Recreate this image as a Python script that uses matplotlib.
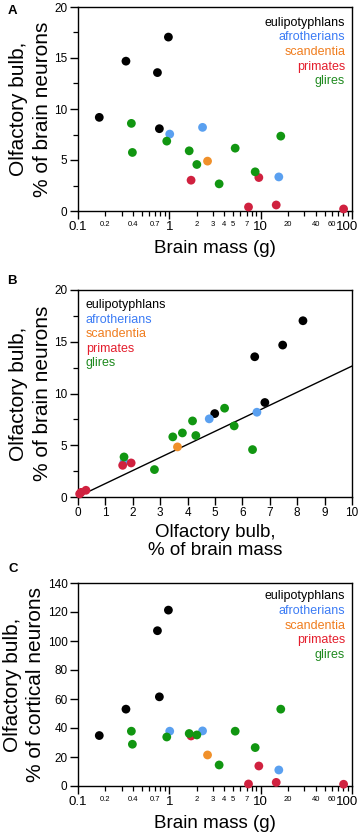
import numpy as np
import matplotlib
matplotlib.use("Agg")
import matplotlib.pyplot as plt
import matplotlib.transforms as mtransforms
from matplotlib.ticker import FixedLocator, NullLocator

plt.rcParams['font.family'] = ['Liberation Sans', 'DejaVu Sans']

groups = ["eulipotyphlans", "afrotherians", "scandentia", "primates", "glires"]
marker_colors = ["#000000", "#5aa0f0", "#f0902a", "#d0213f", "#119611"]
text_colors = ["#000000", "#3c7cf5", "#f07d1e", "#e41e2d", "#1f8a1f"]

# Panel A: brain mass (g) vs OB % of brain neurons
a_mass = {
    "eulipotyphlans": [0.171, 0.335, 0.741, 0.778, 0.977],
    "afrotherians": [1.01, 2.31, 15.8],
    "scandentia": [2.62],
    "primates": [1.73, 7.36, 9.55, 14.8, 80.9],
    "glires": [0.384, 0.394, 0.937, 1.65, 2.0, 3.51, 5.26, 8.71, 16.6],
}
a_neur = {
    "eulipotyphlans": [9.18, 14.69, 13.57, 8.07, 17.05],
    "afrotherians": [7.54, 8.2, 3.34],
    "scandentia": [4.89],
    "primates": [3.02, 0.39, 3.28, 0.59, 0.2],
    "glires": [8.59, 5.74, 6.85, 5.9, 4.56, 2.66, 6.16, 3.84, 7.34],
}

# Panel B: OB % of brain mass vs OB % of brain neurons
b_massp = {
    "eulipotyphlans": [8.21, 7.47, 6.45, 6.82, 4.99],
    "afrotherians": [4.79, 6.53, 1.68],
    "scandentia": [3.63],
    "primates": [1.63, 1.94, 0.29, 0.11, 0.06],
    "glires": [5.35, 4.18, 3.81, 3.46, 4.30, 5.70, 6.37, 1.68, 2.79],
}
b_neur = {
    "eulipotyphlans": [17.03, 14.68, 13.55, 9.13, 8.06],
    "afrotherians": [7.55, 8.19, 3.39],
    "scandentia": [4.84],
    "primates": [3.06, 3.29, 0.65, 0.45, 0.3],
    "glires": [8.58, 7.35, 6.19, 5.81, 5.94, 6.87, 4.58, 3.87, 2.65],
}
fit_x = [0.05, 10.0]
fit_y = [0.1, 12.65]

# Panel C: brain mass (g) vs OB % of cortical neurons
c_mass = a_mass
c_cort = {
    "eulipotyphlans": [34.8, 53.0, 107.1, 61.5, 121.3],
    "afrotherians": [37.8, 38.0, 11.05],
    "scandentia": [21.4],
    "primates": [34.5, 1.4, 13.8, 2.5, 1.2],
    "glires": [37.8, 28.8, 33.8, 36.2, 35.2, 14.5, 37.8, 26.5, 53.0],
}

W, H = 361, 833
fig = plt.figure(figsize=(W / 100, H / 100), dpi=100)

def axrect(l, r, t, b):
    return [l / W, 1 - b / H, (r - l) / W, (b - t) / H]

axA = fig.add_axes(axrect(78, 352, 7, 211))
axB = fig.add_axes(axrect(78, 352, 290, 497))
axC = fig.add_axes(axrect(78, 352, 583, 786))

MS = 40
major_fs = 8.5
minor_fs = 5.5

def style(ax):
    for sp in ax.spines.values():
        sp.set_linewidth(1.0)
    ax.tick_params(which='major', direction='out', length=6, width=1.0, labelsize=major_fs, pad=1.5)
    ax.tick_params(which='minor', direction='out', length=3.5, width=0.9, labelsize=minor_fs, pad=2.5)

def log_x(ax):
    ax.set_xscale('log')
    ax.set_xlim(0.1, 100)
    majors = [0.1, 1, 10, 100]
    ax.xaxis.set_major_locator(FixedLocator(majors))
    ax.set_xticklabels(["0.1", "1", "10", "100"])
    minors = [m * d for d in [0.1, 1, 10] for m in range(2, 10)]
    ax.xaxis.set_minor_locator(FixedLocator(minors))
    labeled = {0.2: "0.2", 0.4: "0.4", 0.7: "0.7", 2: "2", 3: "3", 4: "4", 5: "5",
               7: "7", 20: "20", 40: "40", 60: "60"}
    labs = []
    for v in minors:
        key = None
        for k in labeled:
            if abs(k - v) < 1e-9:
                key = k
        labs.append(labeled[key] if key is not None else "")
    ax.set_xticklabels(labs, minor=True)

def shift_last_label(ax):
    off = mtransforms.ScaledTranslation(-4.5 / 100, 0, fig.dpi_scale_trans)
    lab = ax.get_xticklabels()[-1]
    lab.set_transform(lab.get_transform() + off)

def legend(ax, x, y0, step, ha):
    for i, g in enumerate(groups):
        ax.text(x, y0 - i * step, g, color=text_colors[i], fontsize=9,
                ha=ha, va='center', transform=ax.transAxes)

def scatter(ax, xs, ys):
    for g, c in zip(groups, marker_colors):
        ax.scatter(xs[g], ys[g], s=MS, color=c, edgecolors='none', zorder=3, clip_on=False)

YL_FS = 15
YL_LS = 1.28
YL_PAD = 2

# Panel A
scatter(axA, a_mass, a_neur)
log_x(axA)
axA.set_ylim(0, 20)
axA.yaxis.set_major_locator(FixedLocator([0, 5, 10, 15, 20]))
axA.yaxis.set_minor_locator(FixedLocator([2.5, 7.5, 12.5, 17.5]))
style(axA)
axA.tick_params(axis='x', which='major', labelsize=9.5)
axA.tick_params(axis='x', which='minor', pad=3.8)
axA.set_xlabel("Brain mass (g)", fontsize=13.5, labelpad=5)
axA.set_ylabel("Olfactory bulb,\n% of brain neurons", fontsize=YL_FS, labelpad=YL_PAD, linespacing=YL_LS)
legend(axA, 0.975, 0.923, 0.0716, 'right')

# Panel B
scatter(axB, b_massp, b_neur)
axB.plot(fit_x, fit_y, color='black', lw=1.0, zorder=2)
axB.set_xlim(0, 10)
axB.set_ylim(0, 20)
axB.xaxis.set_major_locator(FixedLocator(list(range(0, 11))))
axB.xaxis.set_minor_locator(NullLocator())
axB.yaxis.set_major_locator(FixedLocator([0, 5, 10, 15, 20]))
axB.yaxis.set_minor_locator(FixedLocator([2.5, 7.5, 12.5, 17.5]))
style(axB)
axB.set_xlabel("Olfactory bulb,\n% of brain mass", fontsize=13.5, labelpad=3, linespacing=1.1)
axB.set_ylabel("Olfactory bulb,\n% of brain neurons", fontsize=YL_FS, labelpad=YL_PAD, linespacing=YL_LS)
legend(axB, 0.028, 0.927, 0.070, 'left')

# Panel C
scatter(axC, c_mass, c_cort)
log_x(axC)
axC.set_ylim(0, 140)
axC.yaxis.set_major_locator(FixedLocator(list(range(0, 141, 20))))
axC.yaxis.set_minor_locator(NullLocator())
style(axC)
axC.tick_params(axis='x', which='major', labelsize=9.5)
axC.tick_params(axis='x', which='minor', pad=3.8)
axC.set_xlabel("Brain mass (g)", fontsize=13.5, labelpad=5)
axC.set_ylabel("Olfactory bulb,\n% of cortical neurons", fontsize=YL_FS, labelpad=YL_PAD, linespacing=YL_LS)
legend(axC, 0.975, 0.936, 0.073, 'right')

shift_last_label(axA)
shift_last_label(axC)

for lab, (x, y) in zip(["A", "B", "C"], [(12, 11), (12, 281), (13, 569)]):
    fig.text(x / W, 1 - y / H, lab, fontsize=9.5, fontweight='bold', ha='center', va='center')

fig.savefig("out.png", dpi=100)
